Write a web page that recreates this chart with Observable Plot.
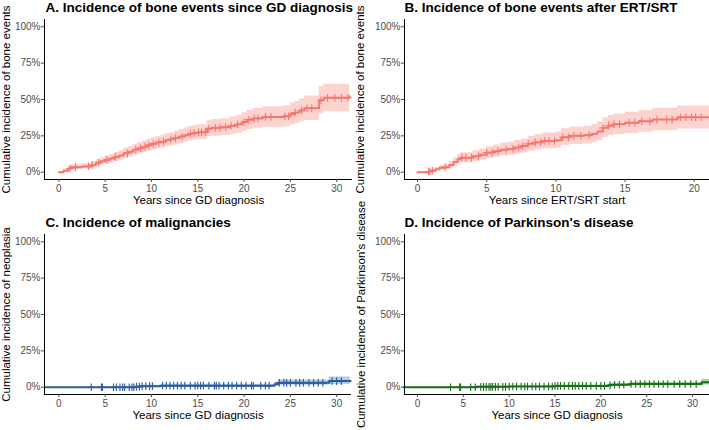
<!DOCTYPE html>
<html><head><meta charset="utf-8">
<script src="https://cdn.jsdelivr.net/npm/d3@7"></script>
<script src="https://cdn.jsdelivr.net/npm/@observablehq/plot@0.6"></script>
<style>
body{margin:0;background:#fff;font-family:"Liberation Sans",Arial,Helvetica,sans-serif;}
#wrap{position:relative;width:709px;height:430px;overflow:hidden;background:#fff;}
#wrap > div{position:absolute;}
</style></head><body><div id="wrap"></div>
<script>
// ---------- Panel A: bone events since GD diagnosis ----------
const aTime = [0, 0.5, 1.0, 1.3, 2.5, 3.5, 4.0, 4.5, 5.0, 5.5, 6.0, 6.5, 7.0, 7.5, 8.0, 8.5, 9.0, 9.5, 10.0, 10.5, 11.0, 11.5, 12.0, 12.5, 13.0, 13.5, 14.0, 14.5, 15.0, 16.0, 16.5, 17.5, 18.5, 19.2, 19.8, 20.3, 21.0, 22.0, 24.3, 25.0, 25.5, 26.0, 26.5, 28.1, 28.6, 31.4];
const aEst  = [0, 0.01, 0.025, 0.035, 0.04, 0.05, 0.065, 0.075, 0.085, 0.095, 0.105, 0.115, 0.13, 0.14, 0.155, 0.165, 0.175, 0.185, 0.195, 0.205, 0.21, 0.22, 0.226, 0.235, 0.245, 0.255, 0.265, 0.27, 0.275, 0.30, 0.305, 0.31, 0.32, 0.33, 0.345, 0.36, 0.37, 0.38, 0.385, 0.40, 0.41, 0.425, 0.44, 0.495, 0.512, 0.522];
const aLo   = [0, 0, 0.01, 0.018, 0.022, 0.03, 0.043, 0.05, 0.058, 0.066, 0.074, 0.082, 0.095, 0.104, 0.117, 0.126, 0.135, 0.144, 0.153, 0.162, 0.166, 0.175, 0.18, 0.188, 0.197, 0.206, 0.215, 0.219, 0.223, 0.244, 0.248, 0.252, 0.26, 0.268, 0.281, 0.294, 0.302, 0.31, 0.313, 0.325, 0.333, 0.345, 0.356, 0.40, 0.415, 0.42];
const aHi   = [0, 0.02, 0.04, 0.052, 0.058, 0.07, 0.087, 0.10, 0.112, 0.124, 0.136, 0.148, 0.165, 0.176, 0.193, 0.204, 0.215, 0.226, 0.237, 0.248, 0.254, 0.265, 0.272, 0.282, 0.293, 0.304, 0.315, 0.321, 0.327, 0.356, 0.362, 0.368, 0.38, 0.392, 0.409, 0.426, 0.438, 0.45, 0.457, 0.475, 0.487, 0.505, 0.524, 0.59, 0.605, 0.61];
const aCensor = [1.2, 1.8, 3.2, 3.6, 4.3, 5.2, 6.1, 7.4, 8.3, 8.8, 9.3, 9.7, 10.2, 10.8, 11.3, 12.1, 12.6, 13.3, 14.2, 14.6, 15.1, 15.4, 15.8, 16.2, 16.9, 17.4, 18.0, 18.6, 19.3, 20.0, 20.5, 21.1, 21.5, 22.3, 22.9, 24.4, 24.8, 25.5, 26.2, 26.8, 27.3, 28.3, 29.0, 29.8, 30.5, 31.2];

// ---------- Panel B: bone events after ERT/SRT ----------
const bTime = [0, 0.8, 1.0, 1.3, 1.6, 2.0, 2.3, 2.6, 2.9, 3.1, 4.0, 4.5, 5.0, 5.5, 6.0, 6.5, 7.0, 7.5, 8.0, 8.5, 9.0, 10.0, 10.4, 11.0, 12.0, 12.6, 13.0, 13.4, 13.8, 14.2, 15.0, 16.0, 17.0, 18.8, 21.1];
const bEst  = [0, 0.005, 0.01, 0.02, 0.03, 0.035, 0.05, 0.07, 0.09, 0.10, 0.11, 0.12, 0.135, 0.145, 0.155, 0.16, 0.17, 0.18, 0.195, 0.205, 0.215, 0.22, 0.24, 0.25, 0.255, 0.265, 0.28, 0.305, 0.32, 0.33, 0.34, 0.35, 0.362, 0.378, 0.378];
const bLo   = [0, 0, 0.002, 0.008, 0.014, 0.017, 0.028, 0.043, 0.058, 0.066, 0.074, 0.082, 0.095, 0.103, 0.111, 0.115, 0.124, 0.132, 0.145, 0.153, 0.161, 0.165, 0.183, 0.19, 0.194, 0.203, 0.216, 0.238, 0.251, 0.259, 0.267, 0.275, 0.285, 0.298, 0.298];
const bHi   = [0, 0.012, 0.02, 0.034, 0.047, 0.054, 0.073, 0.098, 0.122, 0.134, 0.147, 0.159, 0.176, 0.188, 0.2, 0.206, 0.218, 0.229, 0.247, 0.259, 0.27, 0.276, 0.299, 0.31, 0.316, 0.328, 0.345, 0.373, 0.39, 0.401, 0.413, 0.425, 0.44, 0.456, 0.456];
const bCensor = [0.8, 0.9, 1.1, 2.0, 3.2, 3.5, 3.9, 4.4, 5.0, 5.4, 5.8, 6.4, 6.9, 7.3, 7.6, 8.0, 8.5, 8.9, 9.2, 9.5, 9.9, 10.5, 10.9, 11.3, 11.8, 12.4, 13.4, 13.8, 14.2, 14.6, 15.3, 15.7, 16.2, 16.8, 17.3, 18.0, 18.4, 19.0, 19.4, 19.8, 20.1, 20.5];

// ---------- Panel C: malignancies ----------
const cTime = [-1.5, 8.3, 8.8, 11.0, 23.3, 23.7, 29.2, 31.5];
const cEst  = [0, 0.004, 0.007, 0.011, 0.02, 0.03, 0.042, 0.042];
const cLo   = [0, 0, 0.001, 0.003, 0.008, 0.013, 0.018, 0.018];
const cHi   = [0, 0.01, 0.014, 0.02, 0.035, 0.05, 0.07, 0.07];
const cCensor = [3.5, 4.6, 4.7, 5.9, 6.2, 6.6, 6.9, 7.1, 7.6, 7.9, 8.1, 8.4, 8.7, 9.0, 9.4, 9.8, 10.1, 11.2, 11.6, 12.0, 12.4, 12.8, 13.2, 13.6, 14.2, 14.7, 15.0, 15.3, 15.6, 16.2, 16.8, 17.0, 17.3, 17.8, 18.3, 18.7, 19.2, 19.7, 20.2, 20.8, 21.0, 21.8, 22.3, 22.7, 23.8, 24.3, 24.6, 25.0, 25.6, 26.0, 26.4, 27.0, 27.5, 28.0, 28.5, 29.5, 30.0, 30.5];

// ---------- Panel D: Parkinson's disease ----------
const dTime = [-1.5, 6.5, 10.0, 15.0, 20.8, 21.2, 23.2, 31.0, 31.9];
const dEst  = [0, 0.003, 0.005, 0.009, 0.013, 0.017, 0.022, 0.035, 0.035];
const dLo   = [0, 0, 0.001, 0.003, 0.005, 0.008, 0.011, 0.015, 0.015];
const dHi   = [0, 0.008, 0.01, 0.016, 0.022, 0.027, 0.033, 0.055, 0.055];
const dCensor = [3.6, 4.6, 4.7, 5.8, 6.3, 6.9, 7.2, 7.5, 7.8, 8.0, 8.2, 8.5, 8.8, 9.3, 9.6, 10.0, 10.4, 10.8, 11.3, 11.7, 12.0, 12.5, 12.9, 13.3, 13.8, 14.3, 14.7, 15.0, 15.3, 15.6, 16.0, 16.5, 16.9, 17.2, 17.6, 18.0, 18.4, 18.9, 19.5, 20.0, 20.4, 21.0, 21.5, 22.0, 22.5, 23.3, 23.8, 24.3, 24.8, 25.3, 25.8, 26.3, 26.8, 27.3, 28.0, 28.6, 29.2, 29.8, 30.4];

const yTicks = [0, 0.25, 0.5, 0.75, 1];
const xTicks30 = [0, 5, 10, 15, 20, 25, 30];
const xTicks20 = [0, 5, 10, 15, 20];

const titles = [
  "A. Incidence of bone events since GD diagnosis",
  "B. Incidence of bone events after ERT/SRT",
  "C. Incidence of malignancies",
  "D. Incidence of Parkinson's disease"
];
const xLabels = ["Years since GD diagnosis", "Years since ERT/SRT start", "Years since GD diagnosis", "Years since GD diagnosis"];
const yLabels = ["Cumulative incidence of bone events", "Cumulative incidence of bone events", "Cumulative incidence of neoplasia", "Cumulative incidence of Parkinson's disease"];

const FONT = '"Liberation Sans", Arial, Helvetica, sans-serif';

function panel(o) {
  const rows = o.times.map((t, i) => ({t, est: o.est[i], lo: o.lo[i], hi: o.hi[i]}));
  const stepAt = t => o.est[Math.max(0, d3.bisectRight(o.times, t) - 1)];
  const cens = o.censor.map(t => ({t, y: stepAt(t)}));
  return Plot.plot({
    width: o.width, height: 215,
    marginLeft: o.marginLeft, marginRight: o.marginRight, marginTop: 19, marginBottom: 36,
    x: {domain: o.xDomain},
    y: {domain: [-0.05, 1.05]},
    style: {fontFamily: FONT, fontSize: "10px", background: "transparent", overflow: "visible"},
    marks: [
      Plot.areaY(rows, {x: "t", y1: "lo", y2: "hi", curve: "step-after", fill: o.band, fillOpacity: o.bandOpacity}),
      Plot.line(rows, {x: "t", y: "est", curve: "step-after", stroke: o.color, strokeWidth: 2}),
      Plot.dot(cens, {x: "t", y: "y", symbol: "plus", r: 2.6, stroke: o.color, strokeWidth: 1.1}),
      Plot.ruleX([o.xDomain[0]], {stroke: "black", strokeWidth: 1}),
      Plot.ruleY([-0.05], {stroke: "black", strokeWidth: 1}),
      Plot.axisX({ticks: o.xTicks, tickSize: 3, tickPadding: 2, label: null, color: "#4D4D4D", fontSize: 10}),
      Plot.axisY({ticks: yTicks, tickSize: 3, tickPadding: 1, label: null, color: "#4D4D4D", fontSize: 10,
                  tickFormat: d => Math.round(d * 100) + "%"}),
      Plot.text([o.title], {text: d => d, frameAnchor: "top-left", dx: o.titleDx, dy: o.titleDy, textAnchor: "start",
                  lineAnchor: "middle", fontWeight: "bold", fontSize: 13.5, fill: "black"}),
      Plot.text([o.xLabel], {text: d => d, frameAnchor: "bottom", dy: 21, textAnchor: "middle", lineAnchor: "middle", fontSize: 11.5, fill: "black"}),
      Plot.text([o.yLabel], {text: d => d, frameAnchor: "left", dx: o.yLabelDx, rotate: -90, textAnchor: "middle", lineAnchor: "middle", fontSize: 11.5, fill: "black"})
    ]
  });
}

const wrap = document.getElementById("wrap");
const specs = [
  {left: 0, top: 0, width: 355, marginLeft: 44, marginRight: 3, xDomain: [-1.55, 31.7], xTicks: xTicks30,
   times: aTime, est: aEst, lo: aLo, hi: aHi, censor: aCensor, color: "#F8766D", band: "#F8766D", bandOpacity: 0.32,
   title: titles[0], xLabel: xLabels[0], yLabel: yLabels[0], yLabelDx: -38, titleDx: 1, titleDy: -11.5},
  {left: 355, top: 0, width: 354, marginLeft: 49, marginRight: 0, xDomain: [-0.94, 21.1], xTicks: xTicks20,
   times: bTime, est: bEst, lo: bLo, hi: bHi, censor: bCensor, color: "#F8766D", band: "#F8766D", bandOpacity: 0.32,
   title: titles[1], xLabel: xLabels[1], yLabel: yLabels[1], yLabelDx: -44, titleDx: 0, titleDy: -11.5},
  {left: 0, top: 215, width: 355, marginLeft: 44, marginRight: 4, xDomain: [-1.55, 31.6], xTicks: xTicks30,
   times: cTime, est: cEst, lo: cLo, hi: cHi, censor: cCensor, color: "#2B5C9C", band: "#4A7FC0", bandOpacity: 0.4,
   title: titles[2], xLabel: xLabels[2], yLabel: yLabels[2], yLabelDx: -38, titleDx: 1, titleDy: -12.3},
  {left: 355, top: 215, width: 354, marginLeft: 49, marginRight: 0, xDomain: [-1.42, 31.85], xTicks: xTicks30,
   times: dTime, est: dEst, lo: dLo, hi: dHi, censor: dCensor, color: "#1B6E1B", band: "#3FA63F", bandOpacity: 0.45,
   title: titles[3], xLabel: xLabels[3], yLabel: yLabels[3], yLabelDx: -43, titleDx: 0, titleDy: -12.3}
];
for (const s of specs) {
  const div = document.createElement("div");
  div.style.left = s.left + "px";
  div.style.top = s.top + "px";
  div.appendChild(panel(s));
  wrap.appendChild(div);
}
</script></body></html>
